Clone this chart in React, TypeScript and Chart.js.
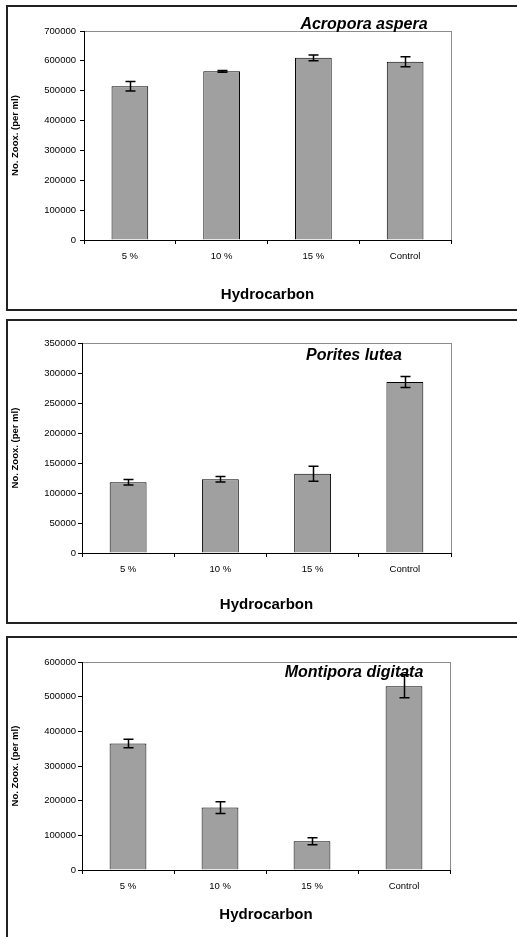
import React, { useEffect, useRef } from "react";
import { Chart, registerables } from "chart.js";

Chart.register(...registerables);

// ---------- data ----------
const categories = ["5 %", "10 %", "15 %", "Control"];
const xAxisTitle = "Hydrocarbon";
const yAxisTitle = "No. Zoox. (per ml)";

const acroporaTitle = "Acropora aspera";
const acroporaValues = [515000, 565000, 610000, 597000];
const acroporaErrors = [16000, 3000, 10000, 17000];
const acroporaYMax = 700000;
const acroporaYStep = 100000;

const poritesTitle = "Porites lutea";
const poritesValues = [118000, 123000, 132000, 285000];
const poritesErrors = [4500, 4500, 12500, 9000];
const poritesYMax = 350000;
const poritesYStep = 50000;

const montiporaTitle = "Montipora digitata";
const montiporaValues = [365000, 180000, 83000, 530000];
const montiporaErrors = [12500, 17000, 10000, 33000];
const montiporaYMax = 600000;
const montiporaYStep = 100000;

// ---------- styling / layout ----------
const FONT = "'Liberation Sans', Arial, Helvetica, sans-serif";
const BAR_FILL = "#a0a0a0";

type Spec = {
  title: string;
  values: number[];
  errors: number[];
  yMax: number;
  yStep: number;
};

type Layout = {
  canvasTop: number;
  canvasH: number;
  borderTop: number;
  borderH: number;
  padTop: number;
  padRight: number;
  xAxisH: number;
  yAxisW: number;
  yTickPad: number;
  xTickPad: number;
  xTitlePad: number;
  titleX: number;
  titleY: number;
};

const panels: { spec: Spec; layout: Layout }[] = [
  {
    spec: { title: acroporaTitle, values: acroporaValues, errors: acroporaErrors, yMax: acroporaYMax, yStep: acroporaYStep },
    layout: { canvasTop: 6, canvasH: 304, borderTop: 5, borderH: 306, padTop: 25, padRight: 66, xAxisH: 70, yAxisW: 84, yTickPad: 4, xTickPad: 7, xTitlePad: 6, titleX: 364, titleY: 19 },
  },
  {
    spec: { title: poritesTitle, values: poritesValues, errors: poritesErrors, yMax: poritesYMax, yStep: poritesYStep },
    layout: { canvasTop: 320, canvasH: 303, borderTop: 319, borderH: 305, padTop: 23, padRight: 66, xAxisH: 70, yAxisW: 82, yTickPad: 2, xTickPad: 7, xTitlePad: 9, titleX: 354, titleY: 36 },
  },
  {
    spec: { title: montiporaTitle, values: montiporaValues, errors: montiporaErrors, yMax: montiporaYMax, yStep: montiporaYStep },
    layout: { canvasTop: 637, canvasH: 300, borderTop: 636, borderH: 400, padTop: 25, padRight: 67, xAxisH: 67, yAxisW: 82, yTickPad: 2, xTickPad: 7, xTitlePad: 13, titleX: 354, titleY: 36 },
  },
];

function Panel({ spec, layout }: { spec: Spec; layout: Layout }) {
  const ref = useRef<HTMLCanvasElement | null>(null);

  useEffect(() => {
    const canvas = ref.current;
    if (!canvas) return;

    const framePlugin = {
      id: "frame",
      beforeDraw(chart: any) {
        const { ctx, chartArea } = chart;
        ctx.save();
        ctx.strokeStyle = "#8c8c8c";
        ctx.lineWidth = 1;
        ctx.strokeRect(
          Math.round(chartArea.left) + 0.5,
          Math.round(chartArea.top) + 0.5,
          Math.round(chartArea.right - chartArea.left),
          Math.round(chartArea.bottom - chartArea.top)
        );
        ctx.restore();
      },
    };

    const titlePlugin = {
      id: "speciesTitle",
      afterDatasetsDraw(chart: any) {
        const { ctx } = chart;
        ctx.save();
        ctx.font = `italic bold 16px ${FONT}`;
        ctx.fillStyle = "#000";
        ctx.textAlign = "center";
        ctx.textBaseline = "middle";
        ctx.fillText(spec.title, layout.titleX, layout.titleY);
        ctx.restore();
      },
    };

    const errorBarPlugin = {
      id: "errorBars",
      afterDraw(chart: any) {
        const { ctx } = chart;
        const meta = chart.getDatasetMeta(0);
        const yScale = chart.scales.y;
        ctx.save();
        ctx.strokeStyle = "#000";
        ctx.lineWidth = 1.5;
        meta.data.forEach((bar: any, i: number) => {
          const v = spec.values[i];
          const e = spec.errors[i];
          const x = Math.round(bar.x) + 0.5;
          const yHi = yScale.getPixelForValue(v + e);
          const yLo = yScale.getPixelForValue(v - e);
          const cap = 5;
          ctx.beginPath();
          ctx.moveTo(x, yHi);
          ctx.lineTo(x, yLo);
          ctx.moveTo(x - cap, yHi);
          ctx.lineTo(x + cap, yHi);
          ctx.moveTo(x - cap, yLo);
          ctx.lineTo(x + cap, yLo);
          ctx.stroke();
        });
        ctx.restore();
      },
    };

    const chart = new Chart(canvas, {
      type: "bar",
      data: {
        labels: categories,
        datasets: [
          {
            data: spec.values,
            backgroundColor: BAR_FILL,
            borderColor: "#000",
            borderWidth: 1,
            barPercentage: 0.4,
            categoryPercentage: 1,
          },
        ],
      },
      options: {
        responsive: false,
        animation: false,
        devicePixelRatio: 1,
        layout: { padding: { top: layout.padTop, right: layout.padRight, bottom: 0, left: 0 } },
        plugins: {
          legend: { display: false },
          tooltip: { enabled: false },
          title: { display: false },
        },
        scales: {
          x: {
            type: "category",
            offset: true,
            grid: {
              display: true,
              drawOnChartArea: false,
              drawTicks: true,
              tickLength: 4,
              color: "#000",
              offset: true,
            },
            border: { display: true, color: "#000", width: 1 },
            ticks: {
              color: "#000",
              font: { family: FONT, size: 9.5 },
              padding: layout.xTickPad,
              maxRotation: 0,
              autoSkip: false,
            },
            title: {
              display: true,
              text: xAxisTitle,
              color: "#000",
              font: { family: FONT, size: 15, weight: "bold" },
              padding: { top: 0, bottom: layout.xTitlePad },
            },
            afterFit: (s: any) => {
              s.height = layout.xAxisH;
            },
          },
          y: {
            min: 0,
            max: spec.yMax,
            grid: {
              display: true,
              drawOnChartArea: false,
              drawTicks: true,
              tickLength: 4,
              color: "#000",
            },
            border: { display: true, color: "#000", width: 1 },
            ticks: {
              stepSize: spec.yStep,
              color: "#000",
              font: { family: FONT, size: 9.5 },
              padding: layout.yTickPad,
              callback: (v: any) => String(v),
            },
            title: {
              display: true,
              text: yAxisTitle,
              color: "#000",
              font: { family: FONT, size: 9.5, weight: "bold" },
              padding: { top: 9.3, bottom: 0 },
            },
            afterFit: (s: any) => {
              s.width = layout.yAxisW;
            },
          },
        },
      } as any,
      plugins: [framePlugin, titlePlugin, errorBarPlugin],
    });

    return () => chart.destroy();
  }, [spec, layout]);

  return (
    <>
      <canvas
        ref={ref}
        width={517}
        height={layout.canvasH}
        style={{ position: "absolute", left: 0, top: layout.canvasTop, width: 517, height: layout.canvasH }}
      />
      <div
        style={{
          position: "absolute",
          left: 6,
          top: layout.borderTop,
          width: 600,
          height: layout.borderH,
          border: "2px solid #222",
          boxSizing: "border-box",
          pointerEvents: "none",
        }}
      />
    </>
  );
}

export default function App() {
  return (
    <div
      style={{
        position: "absolute",
        left: 0,
        top: 0,
        width: 517,
        height: 937,
        overflow: "hidden",
        background: "#fff",
      }}
    >
      {panels.map((p, i) => (
        <Panel key={i} spec={p.spec} layout={p.layout} />
      ))}
    </div>
  );
}
